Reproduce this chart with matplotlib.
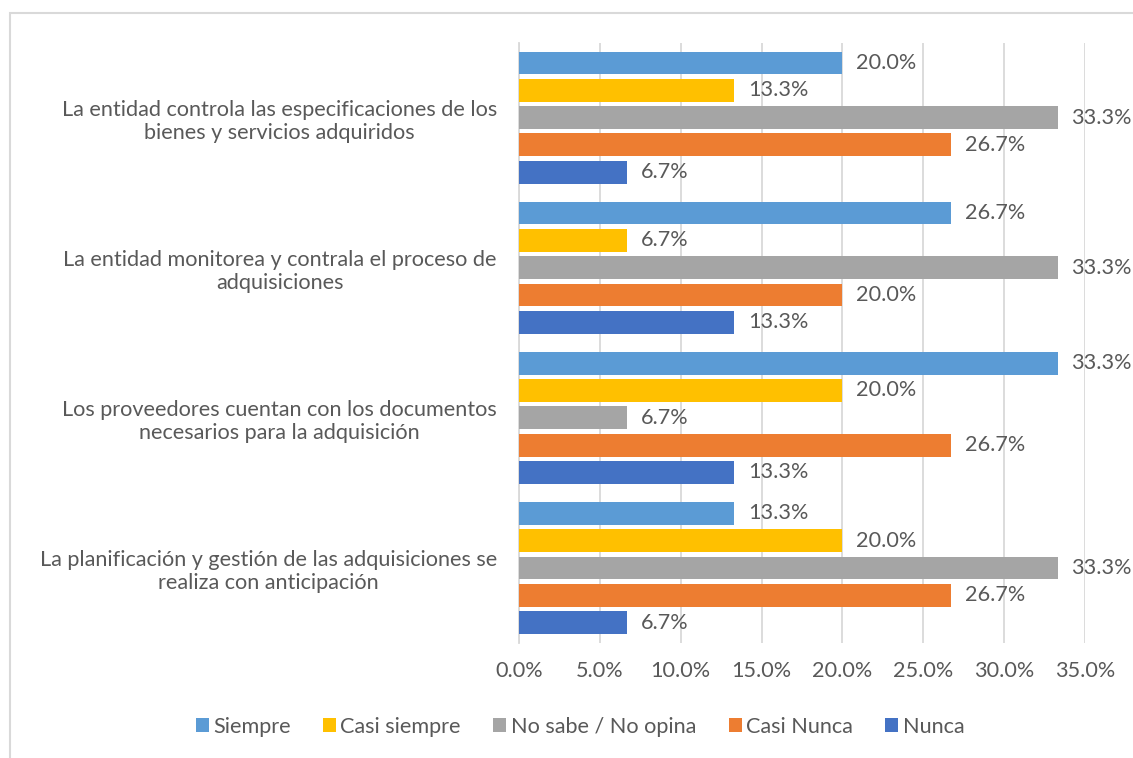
import matplotlib
matplotlib.use("Agg")
import matplotlib.pyplot as plt
from matplotlib.patches import Rectangle
import numpy as np

plt.rcParams['font.family'] = ['Lato', 'DejaVu Sans']

categories = [
    "La entidad controla las especificaciones de los\nbienes y servicios adquiridos",
    "La entidad monitorea y contrala el proceso de\nadquisiciones",
    "Los proveedores cuentan con los documentos\nnecesarios para la adquisición",
    "La planificación y gestión de las adquisiciones se\nrealiza con anticipación",
]
series_names = ["Siempre", "Casi siempre", "No sabe / No opina", "Casi Nunca", "Nunca"]
siempre = [20.0, 26.7, 33.3, 13.3]
casi_siempre = [13.3, 6.7, 20.0, 20.0]
no_sabe = [33.3, 33.3, 6.7, 33.3]
casi_nunca = [26.7, 20.0, 26.7, 26.7]
nunca = [6.7, 13.3, 13.3, 6.7]
series_values = [siempre, casi_siempre, no_sabe, casi_nunca, nunca]
colors = ["#5B9BD5", "#FFC000", "#A5A5A5", "#ED7D31", "#4472C4"]
xticks = [0, 5, 10, 15, 20, 25, 30, 35]

W, H = 1133, 758
fig = plt.figure(figsize=(W / 100, H / 100), dpi=100)
ax = fig.add_axes([519 / W, 1 - 643 / H, (1085 - 519) / W, (643 - 42.5) / H])

text_color = "#595959"
fs = 15.6
pitch = 0.182
height = 0.152
ypos = np.arange(len(categories))
for j, (name, vals, c) in enumerate(zip(series_names, series_values, colors)):
    y = ypos + (j - 2) * pitch
    ax.barh(y, vals, height=height, color=c, label=name, zorder=3)
    for yy, v in zip(y, vals):
        ax.annotate(f"{v:.1f}%", (v, yy), xytext=(14, 0), textcoords="offset pixels",
                    ha="left", va="center", fontsize=fs, color=text_color)

ax.set_xlim(0, 35)
ax.set_ylim(3.5, -0.5)
ax.set_xticks(xticks)
ax.set_xticklabels([f"{t:.1f}%" for t in xticks], fontsize=fs, color=text_color)
ax.set_yticks(ypos)
ax.set_yticklabels(categories, fontsize=fs, color=text_color, multialignment="center",
                   linespacing=1.2)
ax.tick_params(axis="both", length=0)
ax.tick_params(axis="x", pad=13)
ax.tick_params(axis="y", pad=16)
ax.grid(axis="x", color="#D9D9D9", linewidth=1.3, zorder=0)
for s in ["top", "right", "bottom"]:
    ax.spines[s].set_visible(False)
ax.spines["left"].set_color("#D9D9D9")
ax.spines["left"].set_linewidth(1.3)

handles, labels = ax.get_legend_handles_labels()
fig.legend(handles, labels, loc="center", bbox_to_anchor=(580 / W, 1 - 727 / H), ncol=5,
           frameon=False, fontsize=fs, labelcolor=text_color, handlelength=0.6,
           handleheight=0.6, handletextpad=0.2, columnspacing=1.5)

fig.patches.append(Rectangle((10.5 / W, -0.1), 1.2, 1 - 13.5 / H + 0.1, transform=fig.transFigure,
                             fill=False, edgecolor="#D9D9D9", linewidth=1.5))

fig.savefig("out.png", dpi=100, facecolor="white")
